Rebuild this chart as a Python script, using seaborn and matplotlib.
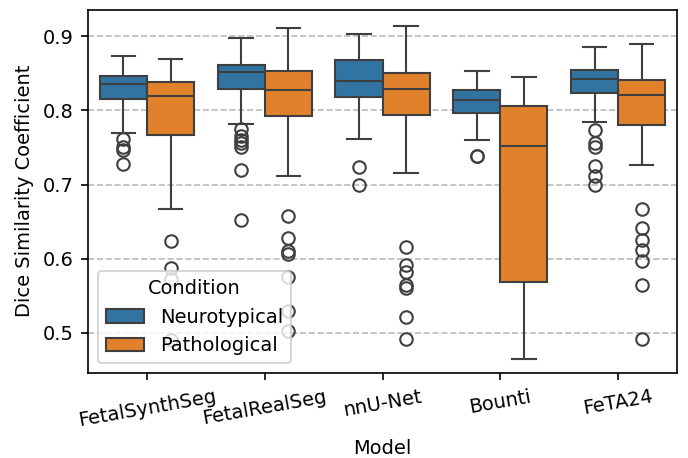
import pandas as pd
import numpy as np
import matplotlib
matplotlib.use('Agg')
import matplotlib.pyplot as plt
import seaborn as sns

plt.rcParams['font.size'] = 9.3

models = ['FetalSynthSeg', 'FetalRealSeg', 'nnU-Net', 'Bounti', 'FeTA24']
conditions = ['Neurotypical', 'Pathological']

# box summaries: (whisker low, q1, median, q3, whisker high)
neuro_box = [
    (0.769, 0.815, 0.836, 0.847, 0.873),
    (0.782, 0.829, 0.852, 0.861, 0.898),
    (0.761, 0.818, 0.840, 0.868, 0.903),
    (0.760, 0.796, 0.814, 0.827, 0.853),
    (0.785, 0.824, 0.842, 0.854, 0.886),
]
patho_box = [
    (0.667, 0.767, 0.820, 0.838, 0.870),
    (0.712, 0.792, 0.827, 0.853, 0.911),
    (0.716, 0.794, 0.829, 0.850, 0.914),
    (0.464, 0.569, 0.752, 0.806, 0.845),
    (0.727, 0.780, 0.821, 0.841, 0.890),
]
neuro_outliers = [
    [0.762, 0.750, 0.746, 0.728],
    [0.775, 0.765, 0.760, 0.756, 0.751, 0.719, 0.652],
    [0.723, 0.700],
    [0.739, 0.738],
    [0.774, 0.756, 0.750, 0.725, 0.712, 0.699],
]
patho_outliers = [
    [0.624, 0.587, 0.573, 0.490],
    [0.657, 0.628, 0.611, 0.606, 0.575, 0.529, 0.503],
    [0.616, 0.592, 0.582, 0.565, 0.560, 0.521, 0.491],
    [],
    [0.667, 0.642, 0.625, 0.612, 0.597, 0.564, 0.492],
]


def sample(box, outliers):
    # smallest set of scores whose quartiles, whiskers and fliers match the box
    wlo, q1, med, q3, whi = box
    lo = sorted(v for v in outliers if v < q1)
    hi = sorted(v for v in outliers if v > q3)
    j = max(len(lo), len(hi)) + 2
    below = lo + [wlo]
    below += [q1] * (j - len(below))
    vals = below + [q1] + [med] * (j - 1) + [med] + [q3] * (j - 1) + [q3]
    above = [whi] + hi
    vals += [q3] * (j - len(above)) + above
    return vals


rows = []
for i, m in enumerate(models):
    for c, box, outs in [(conditions[0], neuro_box[i], neuro_outliers[i]),
                         (conditions[1], patho_box[i], patho_outliers[i])]:
        for v in sample(box, outs):
            rows.append({'Model': m, 'Condition': c, 'Dice': v})
df = pd.DataFrame(rows)

fig, ax = plt.subplots(figsize=(688 / 150, 458 / 150), dpi=150)
sns.boxplot(data=df, x='Model', y='Dice', hue='Condition', order=models,
            hue_order=conditions, ax=ax)
ax.set_axisbelow(True)
ax.yaxis.grid(True, linestyle='--', color='#bbbbbb', linewidth=0.8)
ax.set_xlabel('Model')
ax.set_ylabel('Dice Similarity Coefficient')
ax.set_ylim(0.446, 0.936)
ax.set_yticks([0.5, 0.6, 0.7, 0.8, 0.9])
plt.xticks(rotation=10)
sns.move_legend(ax, 'lower left', title='Condition')
plt.subplots_adjust(left=0.128, right=0.984, top=0.979, bottom=0.186)
plt.savefig('out.png', dpi=150)
